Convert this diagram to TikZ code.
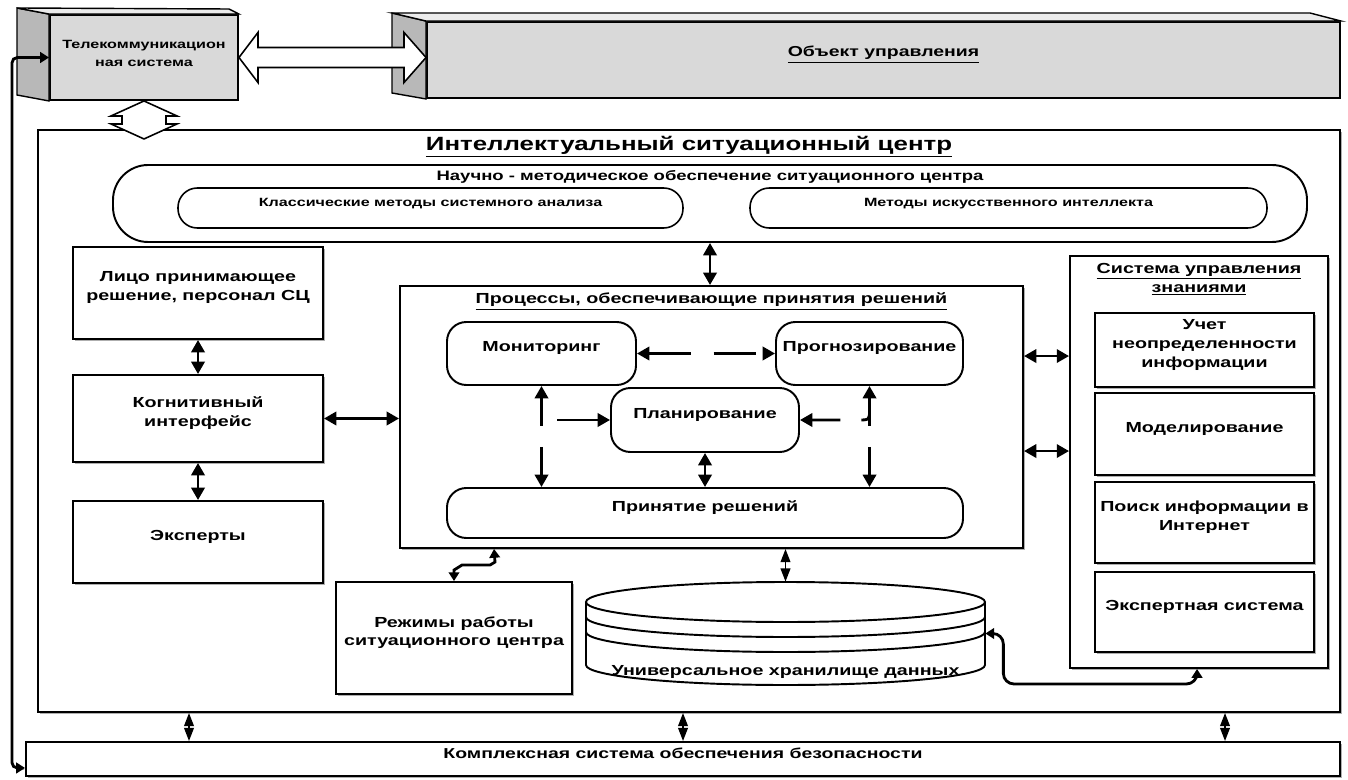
\documentclass[tikz,border=0pt]{standalone}
\usepackage{fontspec}
\newfontfamily\dfont{Liberation Sans}[FakeStretch=1.35]
\usepackage{tikz}
\usetikzlibrary{arrows.meta, positioning, calc, fit, shadows}

\begin{document}
\begin{tikzpicture}[x=0.02cm, y=-0.02cm,
    box/.style={draw, line width=1.1pt, fill=white, inner sep=0pt, align=center,
        font=\dfont\bfseries\fontsize{8.3}{10.8}\selectfont},
    rbox/.style={box, rounded corners=11pt},
    oval/.style={draw, line width=0.9pt, rounded corners=11pt, inner sep=0pt, align=center,
        font=\dfont\bfseries\fontsize{6.8}{9}\selectfont},
    shade/.style={drop shadow={shadow xshift=1.1pt, shadow yshift=-1.1pt, fill=black!35, opacity=0.9}},
    face/.style={draw, line width=0.8pt},
    hollow/.style={draw, line width=0.9pt, fill=white},
    arr/.style={-{Triangle[length=7pt,width=7.5pt]}, line width=1.6pt},
    dblarr/.style={{Triangle[length=7pt,width=7.5pt]}-{Triangle[length=7pt,width=7.5pt]}, line width=1.6pt},
    smallarr/.style={{Triangle[length=5pt,width=6pt]}-{Triangle[length=5pt,width=6pt]}, line width=1.6pt},
    diam/.style={{Triangle[length=7.5pt,width=5.5pt]}-{Triangle[length=7.5pt,width=5.5pt]}, line width=1pt},
    dbline/.style={line width=1.1pt},
]
\useasboundingbox (0,0) rectangle (1348,780);

\node[box, shade, fit={(38,130) (1340,712)}] (isc) {};
\node[font=\dfont\bfseries\fontsize{10.9}{13}\selectfont, below=0.5pt of isc.north] (isct) {\underline{Интеллектуальный ситуационный центр}};

\node[box, fit={(427,22) (1340,98)}, fill=black!15, font=\dfont\bfseries\fontsize{8.2}{10}\selectfont] (obj) {\underline{Объект управления}};
\filldraw[face, fill=black!28] (obj.north west) -- (392,13) -- (392,93) -- (obj.south west) -- cycle;
\filldraw[face, fill=black!8] (obj.north west) -- (392,13) -- (1310,13) -- (obj.north east) -- cycle;

\node[box, fit={(50,15) (238,100)}, fill=black!15, font=\dfont\bfseries\fontsize{6.8}{10}\selectfont] (tel) {Телекоммуникацион\\ная система};
\filldraw[face, fill=black!28] (tel.north west) -- (17,8) -- (17,95) -- (tel.south west) -- cycle;
\filldraw[face, fill=black!8] (tel.north west) -- (17,8) -- (229,9) -- (tel.north east) -- cycle;

\filldraw[hollow] (tel.east) -- ++(19,-25) -- ++(0,15) -- ($(obj.west |- tel.east)+(-22,-10)$) -- ++(0,-15)
    -- (obj.west |- tel.east) -- ++(-22,25) -- ++(0,-15) -- ($(tel.east)+(19,10)$) -- ++(0,15) -- cycle;
\filldraw[hollow] (tel.south) -- ++(33,15) -- ++(-11,0) -- ++(0,8) -- ++(11,0) -- ++(-33,15)
    -- ++(-33,-15) -- ++(11,0) -- ++(0,-8) -- ++(-11,0) -- cycle;

\node[box, rounded corners=20pt, fit={(113,165) (1307,242)}] (nauch) {};
\node[font=\dfont\bfseries\fontsize{7.8}{10}\selectfont, below=0pt of nauch.north] (naucht) {Научно - методическое обеспечение ситуационного центра};
\node[oval, fit={(178,188) (683,228)}] (klass) {Классические методы системного анализа};
\node[oval, fit={(750,188) (1267,228)}] (iimet) {Методы искусственного интеллекта};

\node[box, shade, fit={(73,247) (323,339)}] (lpr) {Лицо принимающее\\решение, персонал СЦ};
\node[box, shade, fit={(73,375) (323,462)}] (cog) {Когнитивный\\интерфейс};
\node[box, shade, fit={(73,501) (323,583)}] (exp) {Эксперты};

\node[box, shade, fit={(400,286) (1023,548)}] (proc) {};
\node[font=\dfont\bfseries\fontsize{8.3}{10}\selectfont, below=1pt of proc.north] (proct) {\underline{Процессы, обеспечивающие принятия решений}};
\node[rbox, fit={(447,322) (636,385)}] (mon) {Мониторинг};
\node[rbox, fit={(776,322) (963,385)}] (prog) {Прогнозирование};
\node[rbox, fit={(611,388) (799,452)}] (plan) {Планирование};
\node[rbox, fit={(447,488) (963,538)}] (prin) {Принятие решений};

\node[box, shade, fit={(336,582) (572,694)}] (rezh) {Режимы работы\\ситуационного центра};

\fill[white] (586,602) -- (586,665) arc[start angle=180, end angle=0, x radius=199.5, y radius=20] -- (985,602) -- cycle;
\draw[dbline] (586,602) -- (586,665) arc[start angle=180, end angle=0, x radius=199.5, y radius=20] -- (985,602);
\draw[dbline, fill=white] (785.5,602) ellipse [x radius=199.5, y radius=20];
\foreach \yy in {617,632}
    \draw[dbline] (586,\yy) arc[start angle=180, end angle=0, x radius=199.5, y radius=20];
\node[fit={(586,582) (985,685)}, inner sep=0pt] (db) {};
\node[font=\dfont\bfseries\fontsize{8.3}{10}\selectfont] (dbt) at ($(db.south)+(0,-13)$) {Универсальное хранилище данных};

\node[box, shade, fit={(1070,256) (1328,668)}] (ks) {};
\node[font=\dfont\bfseries\fontsize{8.3}{10.8}\selectfont, align=center, below=1pt of ks.north] (kst) {\underline{Система управления}\\\underline{знаниями}};
\node[box, shade, fit={(1095,313) (1314,387)}] (uch) {Учет\\неопределенности\\информации};
\node[box, shade, fit={(1095,393) (1314,475)}] (model) {Моделирование};
\node[box, shade, fit={(1095,482) (1314,563)}] (poisk) {Поиск информации в\\Интернет};
\node[box, shade, fit={(1095,572) (1314,652)}] (expsys) {Экспертная система};

\node[box, shade, fit={(26,742) (1340,776)}, font=\dfont\bfseries\fontsize{8.2}{10}\selectfont] (sec) {Комплексная система обеспечения безопасности};

\draw[dblarr] (lpr.south) -- (cog.north);
\draw[dblarr] (cog.south) -- (exp.north);
\draw[dblarr] (cog.east) -- (proc.west |- cog.east);
\draw[dblarr] (nauch.south) -- (proc.north -| nauch.south);
\coordinate (k1) at ($(proc.north east)+(0,71)$);
\coordinate (k2) at ($(proc.north east)+(0,166)$);
\draw[dblarr] (k1) -- (ks.west |- k1);
\draw[dblarr] (k2) -- (ks.west |- k2);

\draw[dblarr, dash pattern=on 24pt off 13pt] (mon.east) -- (prog.west);
\draw[dblarr, dash pattern=on 16pt off 12pt] (mon.south) -- (prin.north -| mon.south);
\draw[dblarr, dash pattern=on 16pt off 12pt] (prog.south) -- (prin.north -| prog.south);
\draw[arr, dash pattern=on 30pt off 9pt, dash phase=30pt] (mon.south |- plan.west) -- (plan.west);
\draw[arr, dash pattern=on 9pt off 12pt on 40pt off 1pt] ($(prog.south |- plan.east)+(0,-10)$)
    .. controls ($(prog.south |- plan.east)+(0,0)$) .. ($(prog.south |- plan.east)+(-12,0)$) -- (plan.east);
\draw[dblarr] (plan.south) -- (prin.north -| plan.south);

\coordinate (pr1) at ($(proc.south west)+(95,0)$);
\draw[smallarr] (rezh.north) -- ++(0,-11) -- ++(8,-5) -- ++(28,0) -- ++(5,-3) -- (pr1);
\draw[diam] (proc.south -| db.north) -- (db.north);

\coordinate (ksp) at ($(ks.south west)+(128,0)$);
\draw[smallarr, rounded corners=6pt] (db.east) -- ++(18,0) |- ($(ksp)+(0,15)$) -- (ksp);

\foreach \xx in {189,683,1225} {
    \coordinate (t) at (\xx,0);
    \draw[diam] (isc.south -| t) -- (sec.north -| t);
}

\coordinate (fbx) at (12,0);
\coordinate (secp) at ($(sec.south west)+(0,-9)$);
\draw[smallarr, rounded corners=3pt] (secp) -- (secp -| fbx) -- (fbx |- tel.west) -- (tel.west);
\end{tikzpicture}
\end{document}
